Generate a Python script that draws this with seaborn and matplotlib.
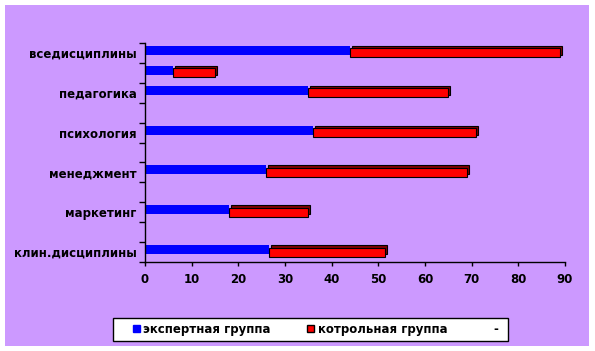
import matplotlib
matplotlib.use('Agg')
import matplotlib.pyplot as plt
import matplotlib.transforms as mtransforms
from matplotlib.patches import Patch, Rectangle
import numpy as np
import pandas as pd
import seaborn as sns

# данные, сверху вниз (подписи показаны через одну, как в Excel)
labels = ['вседисциплины', '', 'педагогика', '', 'психология', '',
          'менеджмент', '', 'маркетинг', '', 'клин.дисциплины']
expert = [44, 6, 35, np.nan, 36, np.nan, 26, np.nan, 18, np.nan, 26.5]
control = [45, 9, 30, np.nan, 35, np.nan, 43, np.nan, 17, np.nan, 25]
series_names = ['экспертная группа', 'котрольная группа', '-']

rows = ['r%d' % i for i in range(len(labels))]
df = pd.DataFrame({'row': rows, 'expert': expert, 'control': control})

sns.set_style('white')
plt.rcParams['font.family'] = ['DejaVu Sans']
plt.rcParams['font.weight'] = 'bold'
plt.rcParams['text.color'] = 'black'
plt.rcParams['xtick.color'] = 'black'
plt.rcParams['ytick.color'] = 'black'

W, H = 595, 351
fig = plt.figure(figsize=(5.95, 3.51), dpi=100)
fig.patch.set_facecolor('white')
# фон области диаграммы
fig.patches.append(Rectangle((5 / W, 1 - 346 / H), 584 / W, 341 / H,
                             transform=fig.transFigure, facecolor='#CC99FF',
                             edgecolor='none', zorder=-5))
# рамка легенды
fig.patches.append(Rectangle((113 / W, 1 - 341 / H), 395 / W, 23 / H,
                             transform=fig.transFigure, facecolor='white',
                             edgecolor='black', linewidth=1, zorder=-4))
ax = fig.add_axes([145 / W, 1 - 262 / H, 420 / W, 219 / H])
ax.set_facecolor('none')


def stack_on_expert(patches):
    # красный сегмент начинается там, где кончается синий
    for p in patches:
        i = int(round(p.get_y() + p.get_height() / 2))
        p.set_x(expert[i])


bw = 0.45
lift = mtransforms.offset_copy(ax.transData, fig=fig, x=2, y=2.5, units='dots')
lift_b = mtransforms.offset_copy(ax.transData, fig=fig, x=0, y=2.5, units='dots')

# тень (3D-эффект) для красных столбцов
n0 = len(ax.patches)
sns.barplot(data=df, x='control', y='row', order=rows, orient='h', color='#800000',
            saturation=1, width=bw, edgecolor='black', linewidth=0.8, ax=ax)
stack_on_expert(ax.patches[n0:])
for p in ax.patches[n0:]:
    p.set_transform(lift)

n1 = len(ax.patches)
sns.barplot(data=df, x='control', y='row', order=rows, orient='h', color='#FF0000',
            saturation=1, width=bw, edgecolor='black', linewidth=0.8, ax=ax)
stack_on_expert(ax.patches[n1:])

n2 = len(ax.patches)
sns.barplot(data=df, x='expert', y='row', order=rows, orient='h', color='#0000FF',
            saturation=1, width=bw, linewidth=0, ax=ax)
for p in ax.patches[n2:]:
    p.set_transform(lift_b)
    p.set_zorder(0.5)

ax.set_xlim(0, 90)
ax.set_ylim(len(rows) - 0.5, -0.5)
ax.set_xticks(range(0, 91, 10))
ax.set_yticks(np.arange(-0.5, len(rows), 1))
ax.set_yticklabels([])
ax.set_yticks(range(len(rows)), minor=True)
ax.set_yticklabels(labels, minor=True)
ax.tick_params(axis='y', which='major', direction='out', length=4, width=1, color='black', left=True)
ax.tick_params(axis='y', which='minor', length=0, pad=6, labelsize=8.5, labelcolor='black')
ax.tick_params(axis='x', direction='out', length=3, width=1, color='black', bottom=True,
               labelsize=8.5, pad=5, labelcolor='black')
for t in ax.get_xticklabels() + ax.get_yticklabels(minor=True):
    t.set_fontweight('bold')
ax.set_xlabel('')
ax.set_ylabel('')
sns.despine(ax=ax)
for s in ('left', 'bottom'):
    ax.spines[s].set_color('black')
    ax.spines[s].set_linewidth(1)

handles = [Patch(facecolor='#0000FF', edgecolor='#0000FF'),
           Patch(facecolor='#FF0000', edgecolor='black'),
           Patch(facecolor='none', edgecolor='none')]
leg = fig.legend(handles, series_names, loc='center', bbox_to_anchor=(316 / W, 1 - 329.5 / H),
                 ncol=3, frameon=False, prop={'size': 8.5, 'weight': 'bold'},
                 handlelength=0.55, handleheight=0.55, handletextpad=0.3,
                 columnspacing=3.1, borderpad=0.2)
for t in leg.get_texts():
    t.set_color('black')

fig.savefig('out.png', dpi=100, facecolor='white')
